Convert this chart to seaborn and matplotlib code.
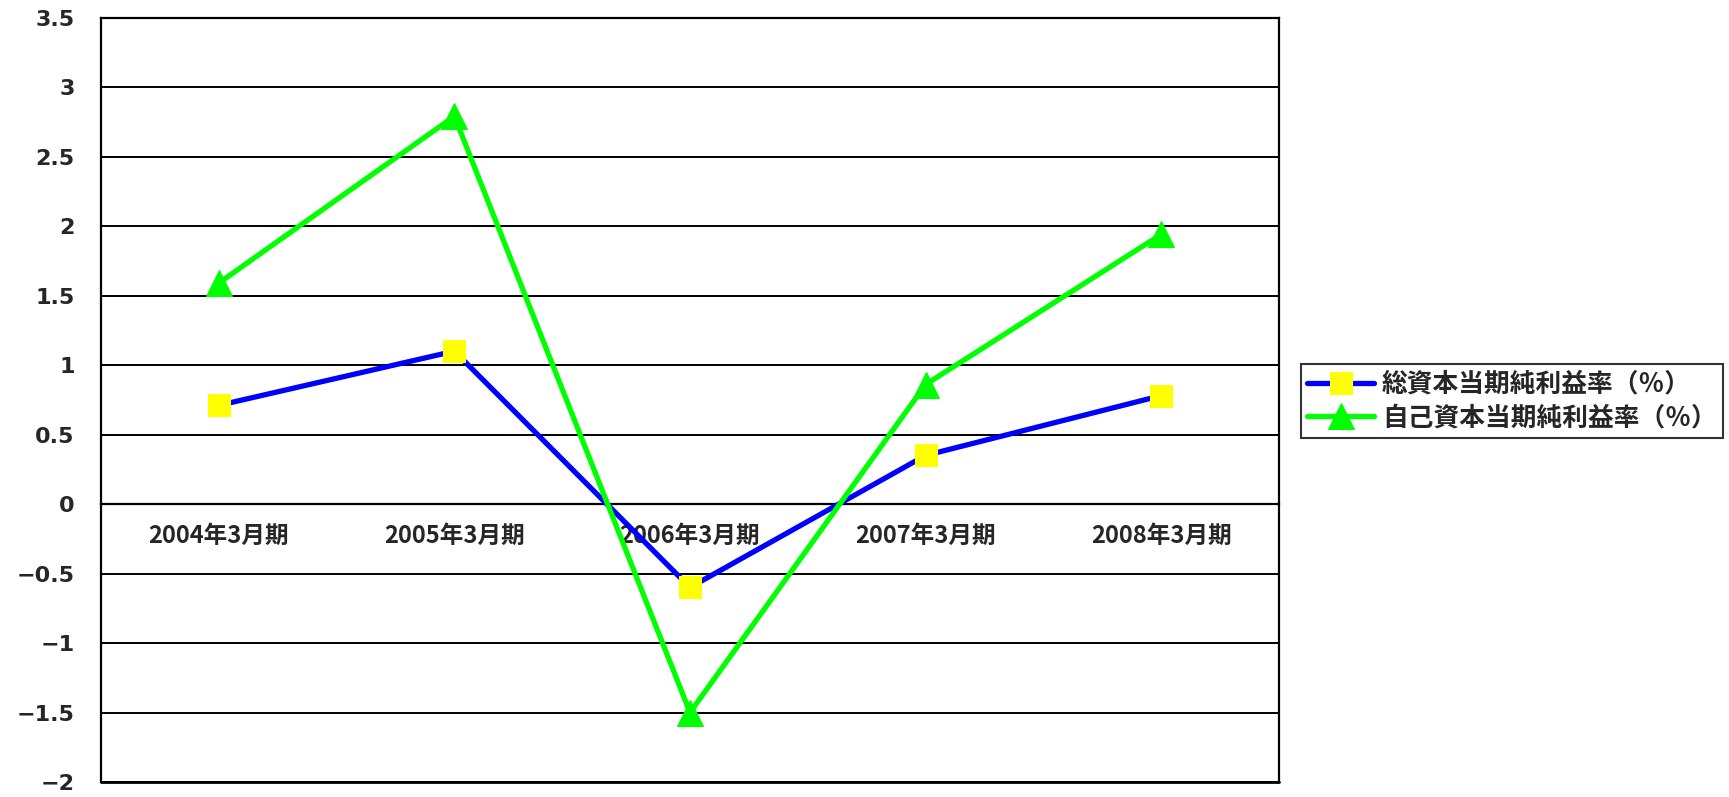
import pandas as pd
import matplotlib.pyplot as plt
import seaborn as sns

# chart values
periods = ['2004年3月期', '2005年3月期', '2006年3月期', '2007年3月期', '2008年3月期']
roa = [0.71, 1.10, -0.60, 0.35, 0.78]
roe = [1.59, 2.79, -1.50, 0.86, 1.94]
roa_label = '総資本当期純利益率（％）'
roe_label = '自己資本当期純利益率（％）'
y_ticks = [-2, -1.5, -1, -0.5, 0, 0.5, 1, 1.5, 2, 2.5, 3, 3.5]
y_tick_labels = ['−2', '−1.5', '−1', '−0.5', '0', '0.5', '1', '1.5', '2', '2.5', '3', '3.5']

sns.set_style('white')
plt.rcParams['font.family'] = ['Noto Sans CJK JP', 'DejaVu Sans']
plt.rcParams['font.weight'] = 'bold'

df_roa = pd.DataFrame({'period': periods, 'value': roa})
df_roe = pd.DataFrame({'period': periods, 'value': roe})

fig = plt.figure(figsize=(17.29, 7.97), dpi=100)
ax = fig.add_axes([101 / 1729, 1 - 782 / 797, (1279 - 101) / 1729, (782 - 17.6) / 797])

sns.lineplot(data=df_roa, x='period', y='value', ax=ax, sort=False,
             color='#0000ff', lw=3.8, marker='s', markersize=16,
             markerfacecolor='#ffff00', markeredgecolor='#ffff00',
             label=roa_label, zorder=3)
sns.lineplot(data=df_roe, x='period', y='value', ax=ax, sort=False,
             color='#00ff00', lw=3.8, marker='^', markersize=19,
             markerfacecolor='#00ff00', markeredgecolor='#00ff00',
             label=roe_label, zorder=3)

ax.set_xlim(-0.5, len(periods) - 0.5)
ax.set_ylim(-2, 3.5)
ax.set_xlabel('')
ax.set_ylabel('')

# y axis
ax.set_yticks(y_ticks)
ax.set_yticklabels(y_tick_labels, fontfamily='DejaVu Sans', fontsize=16, fontweight='bold')
ax.tick_params(axis='y', length=0, pad=19)
ax.yaxis.grid(True, color='black', lw=1.4)
ax.set_axisbelow(True)

# category axis sits on zero
ax.spines['bottom'].set_position(('data', 0))
ax.set_xticks(range(len(periods)))
ax.set_xticklabels(periods, fontsize=17, fontweight='bold')
ax.tick_params(axis='x', which='major', length=0, pad=14)
ax.set_xticks([i + 0.5 for i in range(len(periods) - 1)], minor=True)
ax.tick_params(axis='x', which='minor', direction='in', length=8, width=1.3, color='black')
ax.axhline(-2, color='black', lw=2, clip_on=False, zorder=2.5)

for sp in ax.spines.values():
    sp.set_visible(True)
    sp.set_color('black')
    sp.set_linewidth(1.6)

leg = ax.legend(loc='center left', bbox_to_anchor=(1301 / 1729, 1 - 401 / 797),
                bbox_transform=fig.transFigure, frameon=True, fancybox=False,
                edgecolor='black', fontsize=18.5, handlelength=2.6,
                borderpad=0.25, labelspacing=0.25, handletextpad=0.3,
                borderaxespad=0)
leg.get_frame().set_linewidth(1.5)
for t in leg.get_texts():
    t.set_fontweight('bold')

fig.savefig('out.png', dpi=100, facecolor='white')
